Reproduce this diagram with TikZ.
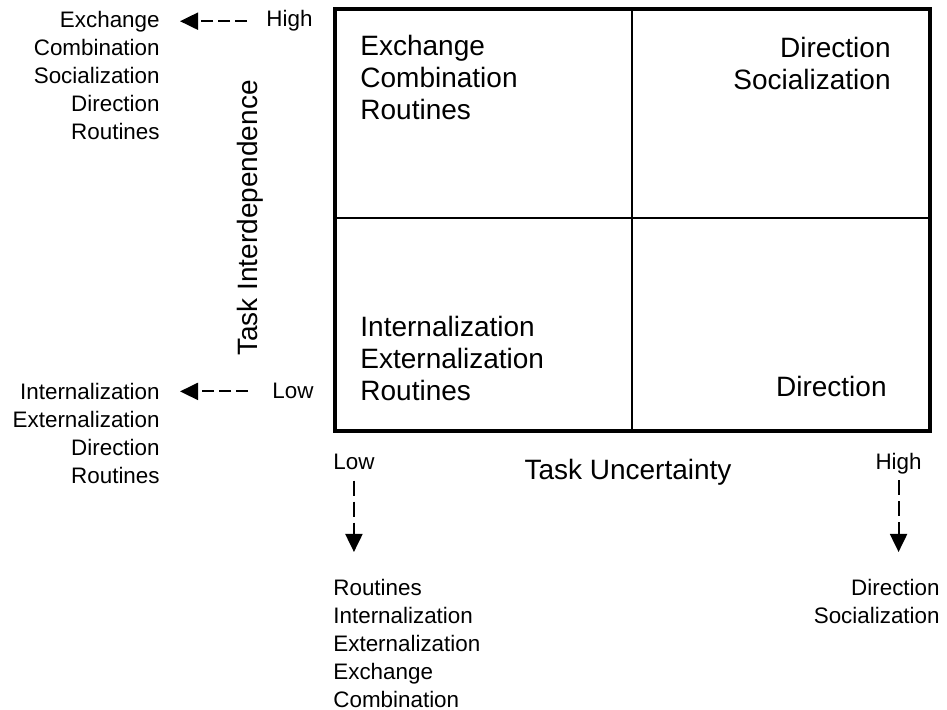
\documentclass[tikz,border=0pt]{standalone}
\usepackage{fontspec}
\setmainfont{Liberation Sans}
\usetikzlibrary{
arrows.meta
}
\tikzset{
bigtext/.style={
font=\fontsize{14}{16}\selectfont,
inner sep=0pt
},
sidetext/.style={
font=\fontsize{11.2}{14}\selectfont,
inner sep=0pt
},
dasharrow/.style={
-{Triangle[length=9pt,width=8.5pt]},
line width=1pt,
dash pattern=on 6pt off 2.5pt
},
downarrow/.style={
dasharrow,
dash pattern=on 7.5pt off 3pt
}
}
\begin{document}
\begin{tikzpicture}[x=0.5pt,y=-0.5pt]
\useasboundingbox (0,0) rectangle (947,710);

\coordinate (nw) at (335,9);
\coordinate (se) at (930,431);
\coordinate (mid) at (632,218);
\draw[line width=1.8pt] (nw) rectangle (se);
\draw[line width=0.8pt] (mid|-nw) -- (mid|-se);
\draw[line width=0.8pt] (nw|-mid) -- (se|-mid);

\node[bigtext, align=left, anchor=north west] (tl) at (360,35) {Exchange\\Combination\\Routines};
\node[bigtext, align=right, anchor=north east] (tr) at (891,37) {Direction\\Socialization};
\node[bigtext, align=left, anchor=north west] (bl) at (360,316) {Internalization\\Externalization\\Routines};
\node[bigtext, anchor=north east] (br) at (887,376) {Direction};

\node[bigtext, rotate=90] (ytitle) at (250,218) {Task Interdependence};
\node[bigtext, anchor=base] (xtitle) at (628,480) {Task Uncertainty};

\node[sidetext, anchor=base west] (yhigh) at (266,27) {High};
\node[sidetext, anchor=base west] (ylow) at (272,399) {Low};
\node[sidetext, anchor=base west] (xlow) at (333,470) {Low};
\node[sidetext, anchor=base east] (xhigh) at (922,470) {High};

\node[sidetext, align=right, anchor=north east] (yhlist) at (160,11) {Exchange\\Combination\\Socialization\\Direction\\Routines};
\node[sidetext, align=right, anchor=north east] (yllist) at (160,383) {Internalization\\Externalization\\Direction\\Routines};
\node[sidetext, align=left, anchor=north west] (xllist) at (333,579) {Routines\\Internalization\\Externalization\\Exchange\\Combination};
\node[sidetext, align=right, anchor=north east] (xhlist) at (940,579) {Direction\\Socialization};

\draw[dasharrow, shorten <=9.5pt, shorten >=10pt] (yhigh.west) -- (yhigh.west -| yhlist.east);
\draw[dasharrow, shorten <=12pt, shorten >=10pt] (ylow.west) -- (ylow.west -| yllist.east);
\draw[downarrow, shorten <=5pt, shorten >=13.5pt] (xlow.south) -- (xlow.south |- xllist.north);
\draw[downarrow, shorten <=2.5pt, shorten >=13.5pt] (xhigh.south) -- (xhigh.south |- xhlist.north);

\end{tikzpicture}
\end{document}
